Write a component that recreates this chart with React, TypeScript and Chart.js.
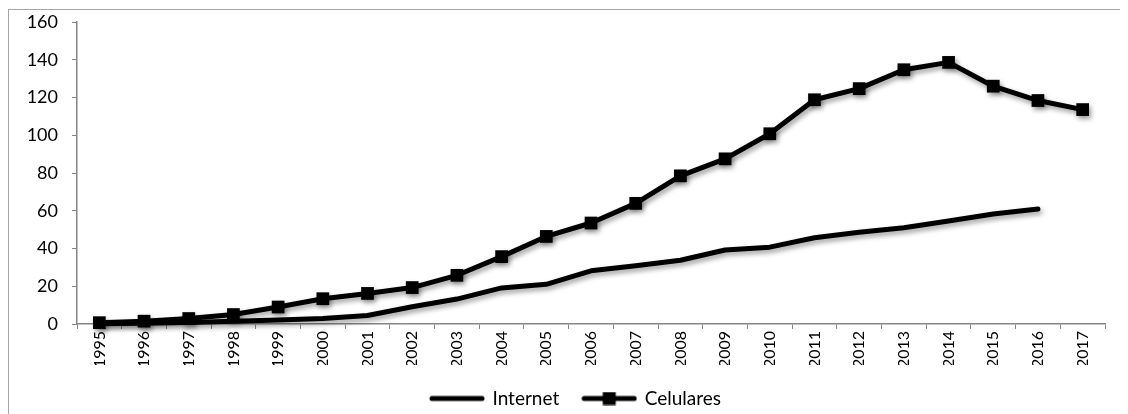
import React, { useEffect, useRef } from "react";
import { Chart, registerables } from "chart.js";

Chart.register(...registerables);

const years = [
  "1995", "1996", "1997", "1998", "1999", "2000", "2001", "2002", "2003", "2004", "2005", "2006",
  "2007", "2008", "2009", "2010", "2011", "2012", "2013", "2014", "2015", "2016", "2017",
];
const internet = [
  0.1, 0.45, 0.8, 1.5, 2.1, 2.9, 4.5, 9.1, 13.2, 19.1, 21.0, 28.2,
  30.9, 33.8, 39.2, 40.7, 45.7, 48.6, 51.0, 54.6, 58.3, 60.9, null,
];
const celulares = [
  0.7, 1.5, 2.9, 5.0, 9.0, 13.4, 16.2, 19.3, 25.8, 35.7, 46.4, 53.5,
  63.9, 78.5, 87.5, 100.8, 118.8, 124.7, 134.7, 138.6, 126.0, 118.4, 113.6,
];
const seriesNames = ["Internet", "Celulares"];
const yMin = 0;
const yMax = 160;
const yStep = 20;

const FONT = "Lato, 'Noto Sans', sans-serif";
const AXIS_GRAY = "#868686";

function makeLegendIcon(withSquare: boolean): HTMLCanvasElement {
  const c = document.createElement("canvas");
  c.width = 56;
  c.height = 14;
  const ctx = c.getContext("2d")!;
  ctx.strokeStyle = "#000";
  ctx.lineWidth = 5;
  ctx.lineCap = "round";
  ctx.beginPath();
  ctx.moveTo(3, 7);
  ctx.lineTo(53, 7);
  ctx.stroke();
  if (withSquare) {
    ctx.fillStyle = "#000";
    ctx.fillRect(28 - 6.5, 0.5, 13, 13);
  }
  return c;
}

const shadowPlugin = {
  id: "lineShadow",
  beforeDatasetsDraw(chart: any) {
    const ctx = chart.ctx;
    ctx.save();
    ctx.shadowColor = "rgba(0,0,0,0.38)";
    ctx.shadowBlur = 5;
    ctx.shadowOffsetX = 2;
    ctx.shadowOffsetY = 3;
  },
  afterDatasetsDraw(chart: any) {
    chart.ctx.restore();
  },
};

const legendShiftPlugin = {
  id: "legendShift",
  afterLayout(chart: any) {
    const lg = chart.legend;
    if (lg) {
      lg.left += 10;
      lg.right += 10;
    }
  },
};

export default function App() {
  const ref = useRef<HTMLCanvasElement | null>(null);

  useEffect(() => {
    if (!ref.current) return;
    const icons = [makeLegendIcon(false), makeLegendIcon(true)];
    const chart = new Chart(ref.current, {
      type: "line",
      data: {
        labels: years,
        datasets: [
          {
            label: seriesNames[0],
            data: internet,
            borderColor: "#000",
            backgroundColor: "#000",
            borderWidth: 5,
            pointRadius: 0,
            pointHoverRadius: 0,
            tension: 0,
            spanGaps: false,
            clip: false as any,
            borderCapStyle: "round",
            borderJoinStyle: "round",
          },
          {
            label: seriesNames[1],
            data: celulares,
            borderColor: "#000",
            backgroundColor: "#000",
            borderWidth: 5,
            pointStyle: "rect",
            pointRadius: 9,
            pointHoverRadius: 9,
            pointBorderWidth: 0,
            tension: 0,
            clip: false as any,
            borderJoinStyle: "round",
          },
        ],
      },
      options: {
        animation: false,
        responsive: false,
        maintainAspectRatio: false,
        layout: { padding: { left: 18, right: 23, top: 0, bottom: 0 } },
        plugins: {
          tooltip: { enabled: false },
          legend: {
            position: "bottom",
            labels: {
              usePointStyle: true,
              pointStyleWidth: 52,
              padding: 24,
              color: "#000",
              font: { family: FONT, size: 19 },
              generateLabels: () =>
                seriesNames.map((n, i) => ({
                  text: n,
                  pointStyle: icons[i] as any,
                  fillStyle: "#000",
                  strokeStyle: "#000",
                  lineWidth: 0,
                  hidden: false,
                  datasetIndex: i,
                  fontColor: "#000",
                })),
            },
          },
        },
        scales: {
          x: {
            type: "category",
            offset: true,
            grid: {
              display: true,
              offset: true,
              drawOnChartArea: false,
              drawTicks: true,
              tickLength: 5,
              color: AXIS_GRAY,
            },
            border: { display: true, color: AXIS_GRAY, width: 1.5 },
            ticks: {
              autoSkip: false,
              maxRotation: 90,
              minRotation: 90,
              padding: 2,
              color: "#000",
              font: { family: FONT, size: 16 },
            },
            afterFit(scale: any) {
              scale.height = 41;
            },
          },
          y: {
            min: yMin,
            max: yMax,
            grid: {
              display: true,
              drawOnChartArea: false,
              drawTicks: true,
              tickLength: 5,
              color: AXIS_GRAY,
            },
            border: { display: true, color: AXIS_GRAY, width: 1.5 },
            ticks: {
              stepSize: yStep,
              padding: 14,
              color: "#000",
              font: { family: FONT, size: 18 },
            },
            afterFit(scale: any) {
              scale.width = 50;
              scale.paddingTop = 12;
              scale.paddingBottom = 0;
            },
          },
        },
      },
      plugins: [shadowPlugin, legendShiftPlugin],
    });
    return () => chart.destroy();
  }, []);

  return (
    <>
      <style>{`html,body{overflow:hidden;}`}</style>
      <div
        style={{
          position: "relative",
          top: 1,
          width: 1119,
          height: 408,
          borderLeft: "1px solid #a6a6a6",
          borderTop: "1px solid #a6a6a6",
          background: "#fff",
        }}
      >
        <canvas ref={ref} width={1119} height={408} style={{ display: "block" }} />
      </div>
    </>
  );
}
